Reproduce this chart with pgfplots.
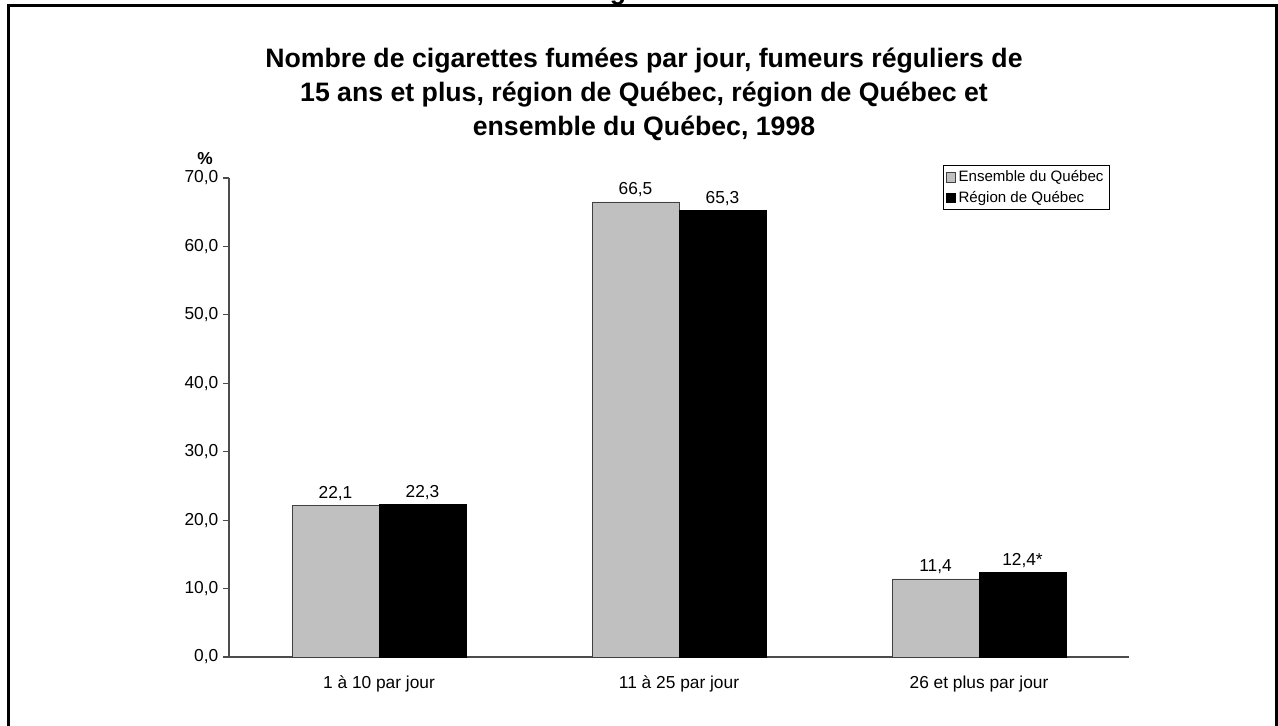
\documentclass[border=0pt]{standalone}
\usepackage{pgfplots}
\pgfplotsset{compat=1.18}
\usepackage{pgfplotstable}
\usepackage{fontspec}
\setmainfont{Liberation Sans}
\definecolor{bargray}{RGB}{192,192,192}
\pgfplotstableread{
x y lab
0 22.1 22,1
1 66.5 66,5
2 11.4 11,4
}\ensemble
\pgfplotstableread{
x y lab
0 22.3 22,3
1 65.3 65,3
2 12.4 12,4*
}\region
\begin{document}
\begin{tikzpicture}[x=0.75pt,y=0.75pt]
\useasboundingbox (-229,-68) rectangle (1049,657);
\begin{scope}
\clip (-229,-68) rectangle (1049,657);
\draw[line width=2.25pt] (-220,-120) rectangle (1047.5,651);
\node[anchor=south,inner sep=0pt,font=\bfseries\fontsize{20pt}{24pt}\selectfont] at (389,652) {g};
\end{scope}
\node[anchor=base,font=\bfseries\fontsize{20pt}{24pt}\selectfont] at (415,589) {Nombre de cigarettes fumées par jour, fumeurs réguliers de};
\node[anchor=base,font=\bfseries\fontsize{20pt}{24pt}\selectfont] at (415,555) {15 ans et plus, région de Québec, région de Québec et};
\node[anchor=base,font=\bfseries\fontsize{20pt}{24pt}\selectfont] at (415,521) {ensemble du Québec, 1998};
\node[anchor=base,font=\bfseries\fontsize{13pt}{15pt}\selectfont] at (-24,492) {\%};
\begin{axis}[
  at={(0pt,0pt)}, anchor=south west,
  scale only axis, width=675pt, height=359.25pt,
  xmin=-0.5, xmax=2.5, ymin=0, ymax=70,
  ybar=0pt, bar width=0.29,
  axis lines=left, axis line style={-, draw=black!70, line width=0.8pt},
  ytick={0,10,...,70},
  tick align=outside, major tick length=4.5pt,
  major tick style={draw=black!70, line width=0.8pt},
  xtick={0,1,2},
  xticklabels={1 à 10 par jour, 11 à 25 par jour, 26 et plus par jour},
  major x tick style={draw=none},
  xticklabel style={font=\fontsize{13pt}{15pt}\selectfont, yshift=-6pt},
  yticklabel style={font=\fontsize{13pt}{15pt}\selectfont,
    /pgf/number format/.cd, fixed, fixed zerofill, precision=1, use comma, assume math mode=true},
  nodes near coords,
  point meta=explicit symbolic,
  every node near coord/.append style={font=\fontsize{13pt}{15pt}\selectfont, black},
  legend style={at={(axis description cs:0.7933,1.027)}, anchor=north west,
    draw=black, inner xsep=2pt, inner ysep=2pt,
    font=\fontsize{11.3pt}{13pt}\selectfont, cells={anchor=west}, row sep=1.5pt},
  legend image code/.code={\draw[#1,line width=0.5pt] (0pt,-3.5pt) rectangle (7pt,3.5pt);},
]
\addplot[fill=bargray, draw=black!75, line width=0.6pt] table[x=x,y=y,meta=lab] {\ensemble};
\addlegendentry{Ensemble du Québec}
\addplot[fill=black, draw=black, line width=0.6pt] table[x=x,y=y,meta=lab] {\region};
\addlegendentry{Région de Québec}
\end{axis}
\end{tikzpicture}
\end{document}
